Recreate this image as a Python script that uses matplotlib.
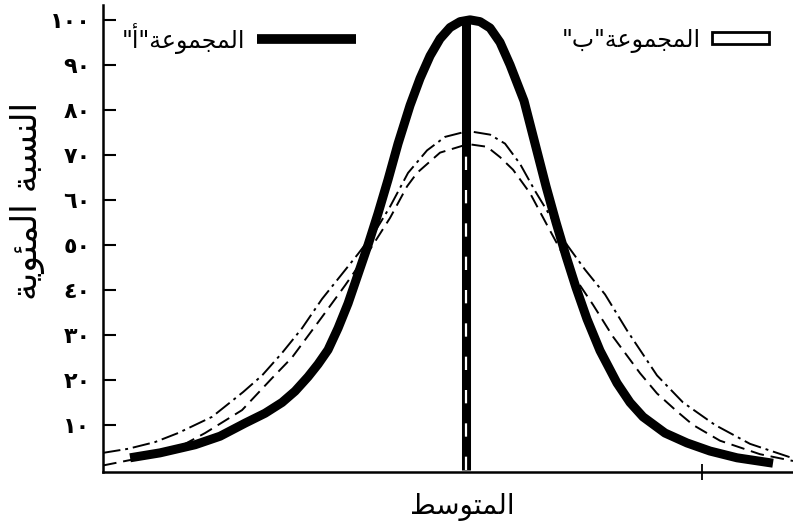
import matplotlib
matplotlib.use("Agg")
import matplotlib.pyplot as plt
import matplotlib.patches as mpatches
from matplotlib.lines import Line2D

plt.rcParams['font.family'] = ['DejaVu Sans']

# Arabic text, written in presentation forms and visual order (no shaping engine available)
xlabel_txt = "\uFEC2\uFEB3\uFEEE\uFE98\uFEE4\uFEDF\uFE8D"                      # المتوسط
ylabel_txt = ("\uFE94\uFEF3\uFEEE\uFE8C\uFEE4\uFEDF\uFE8D" + " " +
              "\uFE94\uFE92\uFEB4\uFEE8\uFEDF\uFE8D")                          # النسبة المئوية
group_word = "\uFE94\uFECB\uFEEE\uFEE4\uFEA0\uFEE4\uFEDF\uFE8D"                # المجموعة
label_a = "\"\uFE83\"" + group_word                                            # المجموعة "أ"
label_b = "\"\uFE8F\"" + group_word                                            # المجموعة "ب"

yticks = [10, 20, 30, 40, 50, 60, 70, 80, 90, 100]
ytick_labels = ["١٠", "٢٠", "٣٠", "٤٠", "٥٠", "٦٠", "٧٠", "٨٠", "٩٠", "١٠٠"]

# group A (thick curve)
a_x = [-33.6, -30.6, -27.1, -24.6, -22.1, -20.1, -18.4, -17.1, -15.8, -14.8,
       -13.8, -12.8, -11.8, -10.8, -9.8, -8.8, -7.8, -6.8, -5.6, -4.6,
       -3.6, -2.6, -1.6, -0.6, 0.4, 1.4, 2.4, 3.4, 4.4, 5.8,
       6.9, 8.0, 9.0, 10.0, 11.0, 12.1, 13.4, 15.1, 16.4, 17.7,
       19.9, 22.1, 24.4, 27.1, 30.7]
a_y = [2.7, 3.8, 5.6, 7.5, 10.4, 12.6, 15, 17.5, 20.7, 23.5,
       26.7, 31.5, 37, 43.5, 50, 57, 64.5, 72.5, 81, 87,
       92, 95.8, 98.3, 99.6, 100, 99.6, 98.2, 95, 90, 82,
       72.5, 63, 55, 47.5, 40.5, 33.5, 26.5, 19.3, 15, 11.8,
       8.2, 6, 4.2, 2.7, 1.5]

# group B (outer and inner thin lines)
b_out_x = [-36.3, -33.8, -31.1, -28.8, -25.4, -22.3, -20.4, -18.4, -16.4, -14.4,
           -12.6, -10.8, -9.1, -7.6, -5.8, -3.9, -2.1, 0.2, 2.4, 3.9,
           5.4, 6.9, 8.4, 10.1, 11.9, 13.9, 16.1, 19.1, 21.7, 24.9,
           28.4, 32.7]
b_out_y = [3.8, 4.7, 6.2, 8.2, 11.8, 17.3, 21, 26, 31.5, 38,
           43, 48, 53, 58.5, 66, 71, 74, 75.3, 74.5, 72.5,
           68, 62, 56.5, 50, 44.5, 39, 31, 21, 15, 10,
           5.8, 2.6]
b_in_x = [-36.3, -33.6, -30.6, -28.1, -26.1, -22.4, -19.4, -17.4, -14.4, -12.1,
          -9.6, -7.6, -5.9, -4.9, -2.6, 0.2, 2.1, 3.4, 4.7, 6.4,
          8.2, 9.9, 11.4, 12.7, 14.7, 17.4, 19.1, 21.1, 22.7, 25.4,
          29.4, 32.7]
b_in_y = [1.0, 2.2, 3.8, 5.8, 8.2, 13.3, 20.4, 25, 34, 41,
          49, 56, 63, 66, 70.5, 72.4, 71.8, 69.5, 66.7, 61.5,
          54, 47, 41, 36.7, 29.6, 21.5, 17, 13, 10, 6.5,
          3.5, 2.0]

mean_x = 0
mean_top = 100
mean_dash_top = 70

fig = plt.figure(figsize=(7.93, 5.26), dpi=100)
ax = fig.add_axes([0.130, 0.1027, 0.870, 0.8878])

ax.plot(b_out_x, b_out_y, color='black', lw=1.4, linestyle=(0, (9, 2.5, 1.5, 2.5)))
ax.plot(b_in_x, b_in_y, color='black', lw=1.4, linestyle=(0, (7, 3.5)))
ax.plot(a_x, a_y, color='black', lw=6.5, solid_capstyle='butt', solid_joinstyle='round')

ax.plot([mean_x, mean_x], [0, mean_top], color='black', lw=6.5, solid_capstyle='butt')
ax.plot([mean_x, mean_x], [0, mean_dash_top], color='white', lw=1.6,
        linestyle=(0, (6, 9)), dash_capstyle='butt')

ax.set_xlim(-36.3, 32.7)
ax.set_ylim(-0.45, 103.3)
ax.spines['top'].set_visible(False)
ax.spines['right'].set_visible(False)
for s in ('left', 'bottom'):
    ax.spines[s].set_linewidth(1.8)

ax.set_yticks(yticks)
ax.set_yticklabels(ytick_labels, fontsize=16, fontweight='bold')
ax.tick_params(axis='y', direction='in', length=9, width=1.5, pad=9)
ax.set_xticks([23.6])
ax.set_xticklabels([''])
ax.tick_params(axis='x', direction='inout', length=12, width=1.3)

ax.set_xlabel(xlabel_txt, fontsize=20)
ax.xaxis.set_label_coords(0.52, -0.045)
ax.set_ylabel(ylabel_txt, fontsize=25)
ax.yaxis.label.set_verticalalignment('center')
ax.yaxis.set_label_coords(-0.11, 0.58)

h_a = Line2D([], [], color='black', lw=7, solid_capstyle='butt')
h_b = mpatches.Patch(facecolor='white', edgecolor='black', linewidth=2)
leg_a = ax.legend([h_a], [label_a], loc='center', bbox_to_anchor=(0.197, 0.929),
                  frameon=False, markerfirst=False, fontsize=17, handlelength=4.2,
                  handletextpad=0.5, borderpad=0)
ax.add_artist(leg_a)
ax.legend([h_b], [label_b], loc='center', bbox_to_anchor=(0.815, 0.925),
          frameon=False, markerfirst=False, fontsize=17, handlelength=2.4,
          handleheight=0.45, handletextpad=0.5, borderpad=0)

fig.savefig('out.png', dpi=100)
